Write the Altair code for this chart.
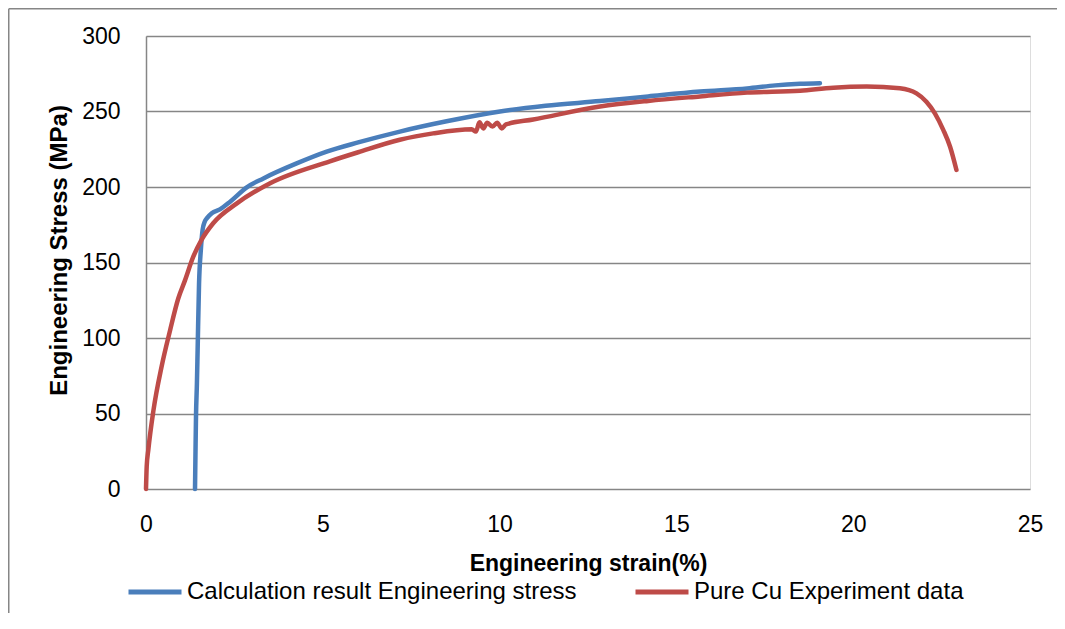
import altair as alt
import pandas as pd

# Calculation result (blue)
calc_strain = [1.386, 1.40, 1.414, 1.44, 1.46, 1.50, 1.55, 1.60, 1.66, 1.73, 1.86, 2.09, 2.38,
               2.85, 3.32, 4.26, 5.11, 6.0, 7.18, 8.5, 10.01, 11.3, 12.84, 14.2, 15.67, 17.0,
               17.8, 18.5, 19.06]
calc_stress = [0, 25, 48, 70, 92, 136, 158, 171.5, 177, 179.5, 182.6, 185.2, 190.3,
               199.8, 205.7, 215.6, 223.4, 229.5, 236.7, 243.5, 250, 253.8, 256.9, 260, 263.2, 265.3,
               267.3, 268.3, 268.7]

# Pure Cu experiment (red)
exp_strain = [0, 0.02, 0.066, 0.21, 0.44, 0.68, 0.91, 1.10, 1.34, 1.57, 1.90, 2.56, 3.51,
              5.2, 6.0, 7.18, 8.12, 9.21, 9.33, 9.43, 9.54, 9.65, 9.80, 9.93, 10.06, 10.18,
              10.95, 12.84, 14.2, 15.67, 17.0, 18.5, 19.44, 20.38, 21.32, 21.79, 22.07, 22.31,
              22.55, 22.74, 22.92]
exp_stress = [0, 15, 26, 52, 81, 105, 126, 138, 154, 165, 176, 189, 202.5,
              217, 223, 231.3, 235.5, 238.2, 236.7, 242.8, 238.8, 242.6, 240.0, 242.6, 238.8, 241.4,
              244.7, 253.3, 257, 260, 262.5, 263.8, 265.8, 266.5, 265.4, 262.0, 256.5, 248.8,
              237.7, 226.7, 211.3]

series_names = ["Calculation result Engineering stress", "Pure Cu Experiment data"]
series_colors = ["#4A7EBB", "#BE4B48"]

x_ticks = [0, 5, 10, 15, 20, 25]
y_ticks = [0, 50, 100, 150, 200, 250, 300]

rows = []
for i, (x, y) in enumerate(zip(calc_strain, calc_stress)):
    rows.append({"strain": x, "stress": y, "series": series_names[0], "idx": i})
for i, (x, y) in enumerate(zip(exp_strain, exp_stress)):
    rows.append({"strain": x, "stress": y, "series": series_names[1], "idx": i})
df = pd.DataFrame(rows)

FONT = "Liberation Sans"
GRID = "#868686"

W, H = 884, 453
PL, PT, PR, PB = 138, 28, 27, 124

lines = alt.Chart(df).mark_line(strokeWidth=4.5, strokeCap="round", strokeJoin="round",
                                interpolate="monotone").encode(
    x=alt.X("strain:Q", scale=alt.Scale(domain=[0, 25], nice=False),
            axis=alt.Axis(values=x_ticks, grid=False, domain=False, ticks=False,
                          labelFlush=False, labelOverlap=False,
                          labelPadding=24, labelFontSize=23, labelFont=FONT, labelColor="#000000",
                          title="Engineering strain(%)", titleFont=FONT, titleFontSize=23,
                          titleFontWeight="bold", titleColor="#000000",
                          titleX=W / 2, titleY=74, titleBaseline="middle")),
    y=alt.Y("stress:Q", scale=alt.Scale(domain=[0, 300], nice=False),
            axis=alt.Axis(values=y_ticks, grid=True, gridColor=GRID, gridWidth=1.5,
                          domain=True, domainColor=GRID, domainWidth=1.5, ticks=False,
                          labelFlush=False, labelOverlap=False,
                          labelPadding=26, labelFontSize=23, labelFont=FONT, labelColor="#000000",
                          title="Engineering Stress (MPa)", titleFont=FONT, titleFontSize=24,
                          titleFontWeight="bold", titleColor="#000000",
                          titleX=-87, titleY=214, titleBaseline="middle", titleAlign="center")),
    color=alt.Color("series:N",
                    scale=alt.Scale(domain=series_names, range=series_colors),
                    legend=alt.Legend(title=None, orient="none", legendX=-20, legendY=527,
                                      direction="horizontal", columns=2, columnPadding=48,
                                      symbolType="stroke", symbolSize=2809, symbolStrokeWidth=5,
                                      labelFont=FONT, labelFontSize=24, labelColor="#000000",
                                      labelOffset=3, padding=0, labelLimit=600)),
    order="idx:Q",
)

frame_df = pd.DataFrame({"a": [0]})
frame_left = alt.Chart(frame_df).mark_rule(color=GRID, strokeWidth=1.5).encode(
    x=alt.value(-137.25), y=alt.value(-27.25), y2=alt.value(H + PB))
frame_top = alt.Chart(frame_df).mark_rule(color=GRID, strokeWidth=1.5).encode(
    x=alt.value(-137.25), x2=alt.value(W + PR), y=alt.value(-27.25))

chart = alt.layer(lines, frame_left, frame_top).properties(
    width=W, height=H,
    autosize=alt.AutoSizeParams(type="none"),
    padding={"left": PL, "top": PT, "right": PR, "bottom": PB},
).configure_view(stroke=None).configure(background="white")

chart.save("out.html", embed_options={"renderer": "svg", "actions": False})
